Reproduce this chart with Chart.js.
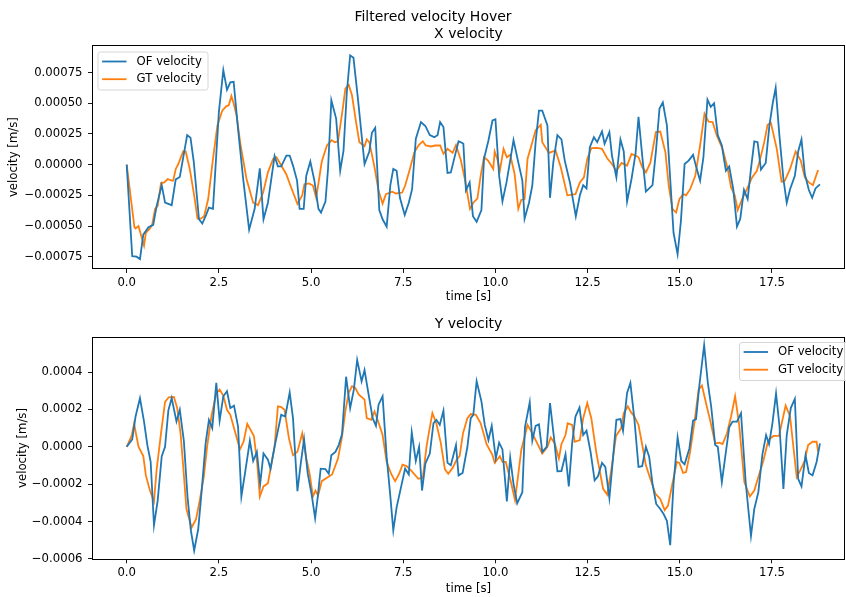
<!DOCTYPE html>
<html lang="en">
<head>
<meta charset="UTF-8">
<title>Filtered velocity Hover</title>
<script src="https://cdn.jsdelivr.net/npm/chart.js"></script>
<style>
  body { margin: 0; background: #fff; }
  #fig { position: relative; width: 846px; height: 597px; }
  #fig canvas { position: absolute; left: 0; }
  #xChart { top: 0; }
  #yChart { top: 306px; }
</style>
</head>
<body>
<div id="fig">
  <canvas id="xChart" width="846" height="306"></canvas>
  <canvas id="yChart" width="846" height="291"></canvas>
</div>
<script>
// velocities in units of 1e-4 m/s
const SUPTITLE = 'Filtered velocity Hover';
const seriesNames = ['OF velocity', 'GT velocity'];

// ---- X velocity ----
const ofXTime = [0, 0.15, 0.27, 0.36, 0.45, 0.59, 0.72, 0.81, 0.95, 1.04, 1.22, 1.33, 1.44, 1.64, 1.73, 1.82, 1.96, 2.05, 2.14, 2.23, 2.34, 2.5, 2.62, 2.72, 2.81, 2.9, 3.02, 3.16, 3.32, 3.47, 3.61, 3.71, 3.83, 4.01, 4.1, 4.19, 4.33, 4.42, 4.51, 4.62, 4.69, 4.8, 4.87, 4.98, 5.09, 5.2, 5.27, 5.39, 5.46, 5.55, 5.68, 5.79, 5.88, 5.97, 6.06, 6.15, 6.27, 6.45, 6.58, 6.65, 6.74, 6.85, 6.94, 7.05, 7.15, 7.23, 7.32, 7.41, 7.54, 7.65, 7.74, 7.84, 7.98, 8.1, 8.22, 8.34, 8.43, 8.5, 8.59, 8.7, 8.79, 8.88, 9.0, 9.09, 9.13, 9.2, 9.3, 9.39, 9.49, 9.62, 9.69, 9.81, 9.92, 10.0, 10.1, 10.19, 10.3, 10.4, 10.49, 10.61, 10.73, 10.79, 10.91, 11.0, 11.09, 11.18, 11.27, 11.41, 11.48, 11.57, 11.68, 11.79, 11.88, 12.02, 12.18, 12.29, 12.38, 12.47, 12.56, 12.67, 12.76, 12.89, 12.96, 13.09, 13.16, 13.28, 13.39, 13.48, 13.57, 13.69, 13.8, 13.88, 13.98, 14.08, 14.26, 14.35, 14.45, 14.54, 14.65, 14.74, 14.83, 14.94, 15.03, 15.13, 15.24, 15.36, 15.44, 15.55, 15.64, 15.75, 15.84, 15.93, 16.03, 16.14, 16.25, 16.34, 16.45, 16.55, 16.64, 16.74, 16.84, 16.93, 17.02, 17.11, 17.2, 17.33, 17.43, 17.52, 17.6, 17.7, 17.81, 17.9, 17.99, 18.12, 18.21, 18.3, 18.39, 18.5, 18.59, 18.68, 18.8];
const ofXVel = [0, -7.46, -7.5, -7.7, -5.7, -5.1, -4.9, -3.4, -1.67, -3.1, -3.3, -1.2, -1.0, 2.4, 2.2, 0.2, -4.45, -4.8, -4.2, -3.5, -3.6, 4.3, 7.7, 6.1, 6.7, 6.75, 2.9, -1.2, -5.3, -3.6, -0.3, -4.45, -3.1, 0.7, -0.14, -0.14, 0.74, 0.74, -0.08, -1.3, -3.6, -3.6, -0.9, 0.25, -1.3, -3.6, -3.9, -3.0, -0.35, 5.25, 3.75, -0.5, 1.15, 5.9, 8.9, 8.7, 5.4, 0.05, 1.07, 2.6, 3.0, -3.7, -4.45, -5.05, -1.67, -0.35, -0.5, -2.7, -4.1, -3.1, -2.0, 2.1, 3.47, 3.15, 2.4, 2.24, 2.4, 3.47, 3.06, -0.68, -0.63, 0.47, 1.9, 1.78, 1.7, -2.1, -1.45, -4.2, -4.65, -3.7, 0.47, 1.97, 3.6, 3.7, -0.9, -3.0, -1.45, 0.33, 2.0, 0.33, -1.3, -4.4, -3.1, -1.7, 1.83, 4.4, 4.4, 3.2, -2.7, 0.2, 2.4, 2.05, 0.33, -1.45, -4.2, -2.5, -1.67, -1.94, 1.42, 2.24, 1.83, 2.7, 1.7, 2.65, 0.74, -1.04, 2.05, 1.07, -3.0, -1.17, 0.9, 3.9, 0.74, -2.2, -1.67, 1.0, 4.57, 5.06, 3.2, -1.17, -5.55, -7.3, -4.6, 0.05, 0.33, 0.8, -0.14, -1.3, 0.6, 5.3, 4.7, 5.0, 2.4, 1.56, -0.5, -0.14, -2.0, -5.05, -4.4, -2.05, -2.8, -0.35, 1.9, 1.83, -0.4, 0.14, 3.2, 5.0, 6.26, 2.4, -1.17, -3.1, -2.0, -0.9, 1.07, 2.05, -0.76, -2.07, -2.7, -1.94, -1.6];

const gtXTime = [0, 0.21, 0.24, 0.32, 0.47, 0.52, 0.63, 0.69, 0.77, 0.84, 0.93, 1.02, 1.11, 1.22, 1.26, 1.33, 1.4, 1.53, 1.6, 1.71, 1.83, 1.92, 2.01, 2.1, 2.21, 2.34, 2.46, 2.59, 2.7, 2.77, 2.84, 2.9, 2.98, 3.09, 3.25, 3.43, 3.56, 3.7, 3.83, 3.97, 4.06, 4.17, 4.33, 4.46, 4.63, 4.76, 4.82, 4.94, 5.05, 5.14, 5.29, 5.43, 5.56, 5.64, 5.73, 5.86, 5.93, 6.02, 6.11, 6.22, 6.31, 6.45, 6.51, 6.58, 6.72, 6.83, 6.94, 7.03, 7.2, 7.3, 7.47, 7.55, 7.68, 7.8, 7.92, 8.03, 8.11, 8.25, 8.37, 8.5, 8.59, 8.7, 8.84, 8.93, 9.06, 9.17, 9.31, 9.4, 9.51, 9.6, 9.69, 9.8, 9.94, 9.98, 10.05, 10.12, 10.22, 10.31, 10.4, 10.52, 10.62, 10.7, 10.79, 10.87, 11.0, 11.09, 11.23, 11.27, 11.45, 11.63, 11.77, 11.95, 12.17, 12.29, 12.4, 12.49, 12.6, 12.76, 12.89, 13.03, 13.16, 13.28, 13.42, 13.57, 13.69, 13.8, 13.88, 13.98, 14.08, 14.2, 14.35, 14.47, 14.61, 14.7, 14.8, 14.9, 14.99, 15.1, 15.17, 15.28, 15.42, 15.55, 15.67, 15.78, 15.89, 16.0, 16.16, 16.3, 16.39, 16.49, 16.57, 16.69, 16.82, 16.96, 17.09, 17.18, 17.29, 17.38, 17.47, 17.63, 17.76, 17.85, 17.99, 18.14, 18.28, 18.39, 18.5, 18.61, 18.75];
const gtXVel = [0, -5.1, -5.2, -5.0, -6.6, -5.55, -5.2, -4.9, -3.6, -3.36, -1.5, -1.45, -1.17, -1.3, -1.3, -0.35, 0.05, 1.07, 1.07, -0.35, -2.5, -4.4, -4.4, -4.2, -2.8, 0.47, 3.2, 4.4, 4.75, 4.85, 5.6, 5.0, 4.0, 1.56, -1.17, -3.1, -3.3, -2.27, -0.63, 0.47, 0.6, 0.05, -0.8, -1.86, -3.2, -2.5, -1.6, -1.53, -1.7, -2.7, 0.25, 1.56, 2.0, 1.83, 1.9, 4.57, 6.2, 6.5, 5.65, 3.47, 1.83, 1.5, 2.05, 1.83, -0.2, -2.13, -3.17, -2.4, -2.2, -2.35, -2.27, -1.72, -0.35, 1.0, 1.6, 1.9, 1.56, 1.48, 1.56, 1.56, 0.88, 1.29, 0.96, 1.6, 0.4, -1.17, -3.6, -3.1, -2.76, -0.9, 0.6, 0.33, -0.35, 1.07, 0.47, -0.5, 1.29, 0.6, 0.8, -0.76, -3.6, -2.87, -2.8, 0.47, 1.83, 2.8, 3.25, 1.83, 0.96, 1.15, -0.2, -2.5, -2.4, -1.45, -1.04, 0.47, 1.34, 1.37, 1.29, 0.52, 0.06, -0.5, 0.14, -0.08, 0.88, 0.74, 0.6, -0.2, -0.63, 0.14, 2.65, 2.7, 1.0, -1.72, -3.6, -3.9, -2.8, -2.4, -2.5, -2.0, -0.9, 1.56, 4.15, 3.5, 3.47, 2.4, 1.29, -0.35, -1.86, -2.5, -3.7, -2.8, -2.0, -1.04, -0.5, 0.47, 1.83, 3.25, 3.4, 1.29, -1.4, -1.3, -0.35, 1.07, 0.33, -1.04, -1.45, -1.67, -0.43];

// ---- Y velocity ----
const ofYTime = [0, 0.15, 0.24, 0.36, 0.47, 0.56, 0.65, 0.74, 0.84, 0.95, 1.04, 1.13, 1.22, 1.35, 1.44, 1.55, 1.65, 1.74, 1.83, 1.94, 2.03, 2.14, 2.23, 2.32, 2.43, 2.52, 2.62, 2.72, 2.81, 2.91, 3.02, 3.11, 3.22, 3.34, 3.43, 3.53, 3.62, 3.71, 3.83, 3.9, 4.01, 4.1, 4.19, 4.3, 4.42, 4.51, 4.63, 4.72, 4.81, 4.91, 5.02, 5.11, 5.18, 5.26, 5.39, 5.48, 5.55, 5.66, 5.75, 5.84, 5.95, 6.06, 6.16, 6.25, 6.37, 6.45, 6.56, 6.67, 6.76, 6.83, 6.94, 7.05, 7.14, 7.23, 7.32, 7.44, 7.55, 7.65, 7.73, 7.84, 7.93, 8.01, 8.1, 8.22, 8.32, 8.4, 8.49, 8.59, 8.7, 8.79, 8.93, 9.0, 9.11, 9.24, 9.33, 9.4, 9.49, 9.62, 9.71, 9.81, 9.9, 10.01, 10.1, 10.19, 10.31, 10.4, 10.49, 10.59, 10.73, 10.8, 10.93, 11.0, 11.09, 11.18, 11.27, 11.39, 11.48, 11.59, 11.68, 11.79, 11.9, 11.99, 12.08, 12.17, 12.28, 12.38, 12.47, 12.58, 12.69, 12.78, 12.89, 12.98, 13.09, 13.19, 13.28, 13.39, 13.46, 13.57, 13.66, 13.77, 13.88, 13.98, 14.08, 14.17, 14.26, 14.36, 14.47, 14.56, 14.65, 14.74, 14.83, 14.94, 15.04, 15.13, 15.26, 15.36, 15.44, 15.53, 15.66, 15.76, 15.85, 15.96, 16.03, 16.14, 16.25, 16.34, 16.43, 16.55, 16.66, 16.79, 16.93, 17.02, 17.13, 17.24, 17.34, 17.42, 17.51, 17.61, 17.7, 17.81, 17.9, 18.01, 18.12, 18.21, 18.3, 18.41, 18.5, 18.6, 18.71, 18.8];
const ofYVel = [0, 0.4, 1.62, 2.6, 1.35, 0.09, -0.81, -4.2, -2.88, -0.5, 0, 1.95, 2.6, 1.35, 1.98, 0.32, -2.7, -4.47, -5.55, -4.4, -2.43, 0.18, 1.44, 1.0, 3.42, 1.4, 2.7, 2.97, 2.07, 2.2, 1.08, -2.66, -1.26, 0.32, -0.76, -0.27, -1.98, -0.36, -0.69, -1.17, 0, 0.86, 1.71, 1.62, 2.9, 1.53, -2.38, -0.9, 0.4, -1.44, -2.61, -3.82, -2.7, -1.17, -1.2, -1.44, -0.45, -0.27, 0.09, 0.68, 3.75, 2.07, 3.06, 4.65, 3.5, 4.1, 2.8, 1.53, 1.12, 2.25, 2.7, -0.54, -2.43, -4.47, -3.24, -2.16, -1.17, -1.48, 0.77, -0.76, 0, -2.34, -0.9, -0.36, 1.26, 1.44, 1.17, 1.93, -0.86, -0.99, 0.09, -1.53, -1.4, 0, 1.53, 1.71, 3.51, 2.43, 1.17, 0.36, 1.12, -0.63, 0.22, -0.14, -2.92, -0.58, -1.98, -3.03, -2.43, 1.04, 2.38, 0.32, 1.12, 1.2, -0.27, 0, 2.34, 0.45, -1.31, -1.3, -0.4, -2.12, 0.18, 1.62, 2.1, 0.63, 0.86, -0.27, -1.8, -1.58, -0.86, -1.08, -2.74, -0.58, 1.44, 1.48, 0.85, 2.88, 3.42, 1.44, -1.08, -1.04, 0, -0.54, -1.98, -3.06, -3.33, -3.6, -3.96, -5.26, -1.98, 0.5, -0.76, -0.94, -0.09, 1.4, 1.48, 3.28, 5.44, 3.42, 2.16, 0.09, 0, -1.89, -0.27, 1.04, 1.35, 1.35, 1.8, -1.98, -4.77, -3.33, -2.43, -0.4, 0.63, 0.14, 1.23, 2.85, 1.17, -2.25, 0.63, 2.07, 2.56, -1.71, -2.12, -0.45, -1.4, -1.53, -0.81, 0.18];

const gtYTime = [0, 0.14, 0.2, 0.32, 0.45, 0.52, 0.63, 0.74, 0.81, 0.93, 1.04, 1.14, 1.28, 1.37, 1.46, 1.53, 1.62, 1.76, 1.88, 1.98, 2.09, 2.18, 2.3, 2.43, 2.52, 2.62, 2.72, 2.81, 2.95, 3.07, 3.17, 3.27, 3.45, 3.54, 3.61, 3.71, 3.83, 3.92, 4.01, 4.1, 4.19, 4.28, 4.4, 4.51, 4.63, 4.76, 4.87, 4.96, 5.05, 5.12, 5.19, 5.29, 5.43, 5.57, 5.73, 5.84, 5.93, 6.02, 6.11, 6.2, 6.29, 6.45, 6.51, 6.63, 6.72, 6.82, 6.94, 7.05, 7.17, 7.28, 7.39, 7.48, 7.59, 7.71, 7.91, 8.03, 8.13, 8.2, 8.29, 8.4, 8.52, 8.63, 8.72, 8.84, 8.94, 9.03, 9.12, 9.24, 9.33, 9.47, 9.6, 9.76, 9.92, 9.98, 10.12, 10.19, 10.28, 10.41, 10.53, 10.61, 10.7, 10.87, 11.0, 11.27, 11.41, 11.5, 11.61, 11.72, 11.79, 11.9, 11.96, 12.08, 12.15, 12.29, 12.38, 12.49, 12.6, 12.74, 12.92, 13.03, 13.14, 13.27, 13.41, 13.48, 13.59, 13.68, 13.77, 13.88, 13.99, 14.08, 14.2, 14.34, 14.47, 14.59, 14.68, 14.79, 14.92, 14.99, 15.09, 15.17, 15.28, 15.4, 15.51, 15.6, 15.71, 15.82, 15.96, 16.07, 16.16, 16.28, 16.39, 16.5, 16.61, 16.75, 16.9, 17.02, 17.13, 17.27, 17.4, 17.54, 17.69, 17.78, 17.87, 17.99, 18.17, 18.29, 18.39, 18.48, 18.6, 18.71, 18.75];
const gtYVel = [0, 0.63, 1.23, 0, -0.5, -1.53, -2.34, -2.92, -1.26, 0.72, 2.4, 2.65, 2.67, 2.07, 0.72, -0.99, -3.33, -4.32, -3.87, -2.88, -1.62, 0, 1.66, 2.85, 3.06, 2.74, 1.98, 1.71, 0.72, -0.14, 0.27, 1.23, 0.58, -0.9, -2.66, -2.12, -1.95, -0.99, 0, 2.16, 2.12, 1.98, 0.45, -0.45, -0.27, 0.72, -0.63, -1.44, -2.66, -2.34, -2.61, -1.84, -1.66, -1.48, -0.63, 0.54, 1.89, 2.88, 3.24, 3.15, 2.8, 2.52, 1.53, 1.44, 1.89, 1.35, 0.63, -0.81, -1.44, -1.84, -1.44, -0.96, -1.03, -1.26, -1.71, -1.66, 0, 0.81, 1.8, 1.23, 0.18, -1.21, -1.44, -1.13, -0.72, -0.49, 0.72, 1.53, 1.75, 1.71, 1.26, 0.14, -0.45, -0.86, -0.5, -0.81, -0.81, -1.8, -2.85, -1.62, -0.18, 1.17, 0.72, -0.36, 0, 0.5, 0.18, -0.63, 0.14, 0.63, 1.26, 1.17, 0.27, 0.36, 1.53, 2.34, 1.53, -0.36, -2.25, -2.56, -1.26, 0.58, 1.0, 1.8, 2.16, 1.84, 1.62, 1.17, 0, -0.99, -1.71, -2.52, -2.79, -3.39, -3.15, -2.07, -0.81, -0.86, -1.4, -1.35, -0.27, 1.35, 3.06, 3.28, 2.34, 1.44, 0.18, 0.22, 0.14, 0.72, 1.62, 2.7, 1.17, -1.89, -2.66, -2.34, -1.62, -0.72, 0.36, 0.58, 0.58, 1.4, 2.21, 1.62, -1.62, -1.17, -0.72, 0.09, 0.27, 0.27, -0.27];

// ---- ticks ----
const xTicks = [0, 2.5, 5, 7.5, 10, 12.5, 15, 17.5];
const xTickLabels = ['0.0', '2.5', '5.0', '7.5', '10.0', '12.5', '15.0', '17.5'];
const xVelTicks = [-0.00075, -0.0005, -0.00025, 0, 0.00025, 0.0005, 0.00075];
const xVelTickLabels = ['\u22120.00075', '\u22120.00050', '\u22120.00025', '0.00000', '0.00025', '0.00050', '0.00075'];
const yVelTicks = [-0.0006, -0.0004, -0.0002, 0, 0.0002, 0.0004];
const yVelTickLabels = ['\u22120.0006', '\u22120.0004', '\u22120.0002', '0.0000', '0.0002', '0.0004'];

const FONT = '"DejaVu Sans", Verdana, sans-serif';
const SMALL = 11.7;
const BIG = 14;
const OF_COLOR = '#1f77b4';
const GT_COLOR = '#ff7f0e';
Chart.defaults.font.family = FONT;
Chart.defaults.color = '#000';

function points(times, vals) {
  return times.map((t, i) => ({ x: t, y: vals[i] * 1e-4 }));
}

function dataset(label, color, times, vals) {
  return {
    label: label,
    data: points(times, vals),
    borderColor: color,
    backgroundColor: color,
    borderWidth: 1.8,
    pointRadius: 0,
    tension: 0,
    fill: false
  };
}

// box around the plot area, like matplotlib spines
const frame = {
  id: 'frame',
  afterDatasetsDraw(chart) {
    const a = chart.chartArea, ctx = chart.ctx;
    ctx.save();
    ctx.strokeStyle = '#000';
    ctx.lineWidth = 1;
    ctx.strokeRect(Math.round(a.left) + 0.5, Math.round(a.top) + 0.5,
      Math.round(a.right - a.left) - 1, Math.round(a.bottom - a.top) - 1);
    ctx.restore();
  }
};

// legend box drawn inside the axes
const mplLegend = {
  id: 'mplLegend',
  afterDraw(chart, args, opts) {
    if (!opts.show) return;
    const ctx = chart.ctx;
    const w = 110, h = 38;
    ctx.save();
    ctx.beginPath();
    if (ctx.roundRect) ctx.roundRect(opts.left + 0.5, opts.top + 0.5, w, h, 2.5);
    else ctx.rect(opts.left + 0.5, opts.top + 0.5, w, h);
    ctx.fillStyle = 'rgba(255,255,255,0.8)';
    ctx.fill();
    ctx.strokeStyle = '#d6d6d6';
    ctx.lineWidth = 1;
    ctx.stroke();
    chart.data.datasets.forEach((ds, i) => {
      const y = opts.top + 10 + i * 17.7;
      ctx.strokeStyle = ds.borderColor;
      ctx.lineWidth = ds.borderWidth;
      ctx.beginPath();
      ctx.moveTo(opts.left + 4.6, y);
      ctx.lineTo(opts.left + 29, y);
      ctx.stroke();
      ctx.fillStyle = '#000';
      ctx.font = SMALL + 'px ' + FONT;
      ctx.textBaseline = 'middle';
      ctx.textAlign = 'left';
      ctx.fillText(ds.label, opts.left + 39, y);
    });
    ctx.restore();
  }
};

// figure title above the first chart
const suptitle = {
  id: 'suptitle',
  afterDraw(chart, args, opts) {
    if (!opts.text) return;
    const ctx = chart.ctx;
    ctx.save();
    ctx.fillStyle = '#000';
    ctx.font = BIG + 'px ' + FONT;
    ctx.textAlign = 'center';
    ctx.textBaseline = 'middle';
    ctx.fillText(opts.text, opts.x, opts.y);
    ctx.restore();
  }
};

function makeChart(id, cfg) {
  const tickGrid = { display: true, drawOnChartArea: false, drawTicks: true, tickLength: 4, color: '#000', lineWidth: 0.9 };
  return new Chart(document.getElementById(id), {
    type: 'line',
    data: {
      datasets: [
        dataset(seriesNames[0], OF_COLOR, cfg.ofTime, cfg.ofVel),
        dataset(seriesNames[1], GT_COLOR, cfg.gtTime, cfg.gtVel)
      ]
    },
    options: {
      responsive: false,
      animation: false,
      layout: { padding: { top: cfg.padTop, right: 1, left: 0, bottom: 0 } },
      plugins: {
        legend: { display: false },
        tooltip: { enabled: false },
        title: {
          display: true,
          text: cfg.title,
          fullSize: false,
          color: '#000',
          font: { size: BIG, weight: 'normal' },
          padding: cfg.titlePad
        },
        mplLegend: cfg.legend,
        suptitle: cfg.suptitle || {}
      },
      scales: {
        x: {
          type: 'linear',
          min: -0.941,
          max: 19.48,
          afterBuildTicks: s => { s.ticks = xTicks.map(v => ({ value: v })); },
          afterFit: s => { s.height = cfg.xAxisHeight; },
          ticks: { callback: (v, i) => xTickLabels[i], autoSkip: false, maxRotation: 0, padding: 3, font: { size: SMALL }, color: '#000' },
          grid: tickGrid,
          border: { display: false },
          title: { display: true, text: 'time [s]', color: '#000', font: { size: SMALL }, padding: { top: 0, bottom: cfg.xTitlePad } }
        },
        y: {
          type: 'linear',
          min: cfg.yMin,
          max: cfg.yMax,
          afterBuildTicks: s => { s.ticks = cfg.yTicks.map(v => ({ value: v })); },
          afterFit: s => { s.width = 92; },
          ticks: { callback: (v, i) => cfg.yTickLabels[i], padding: 5.5, font: { size: SMALL }, color: '#000' },
          grid: tickGrid,
          border: { display: false },
          title: { display: true, text: 'velocity [m/s]', color: '#000', font: { size: SMALL }, padding: { top: cfg.yTitlePad, bottom: 0 } }
        }
      }
    },
    plugins: [frame, mplLegend, suptitle]
  });
}

makeChart('xChart', {
  title: 'X velocity',
  padTop: 25,
  titlePad: { top: 1, bottom: 2.4 },
  ofTime: ofXTime, ofVel: ofXVel, gtTime: gtXTime, gtVel: gtXVel,
  yMin: -0.00085, yMax: 0.000973,
  yTicks: xVelTicks, yTickLabels: xVelTickLabels,
  xAxisHeight: 37, xTitlePad: 2, yTitlePad: 6.5,
  legend: { show: true, left: 97.5, top: 51.5 },
  suptitle: { text: SUPTITLE, x: 433, y: 17.3 }
});

makeChart('yChart', {
  title: 'Y velocity',
  padTop: 0,
  titlePad: { top: 9.6, bottom: 4.3 },
  ofTime: ofYTime, ofVel: ofYVel, gtTime: gtYTime, gtVel: gtYVel,
  yMin: -0.000602, yMax: 0.000589,
  yTicks: yVelTicks, yTickLabels: yVelTickLabels,
  xAxisHeight: 37.7, xTitlePad: 1, yTitlePad: 15.5,
  legend: { show: true, left: 739, top: 36 }
});
</script>
</body>
</html>
